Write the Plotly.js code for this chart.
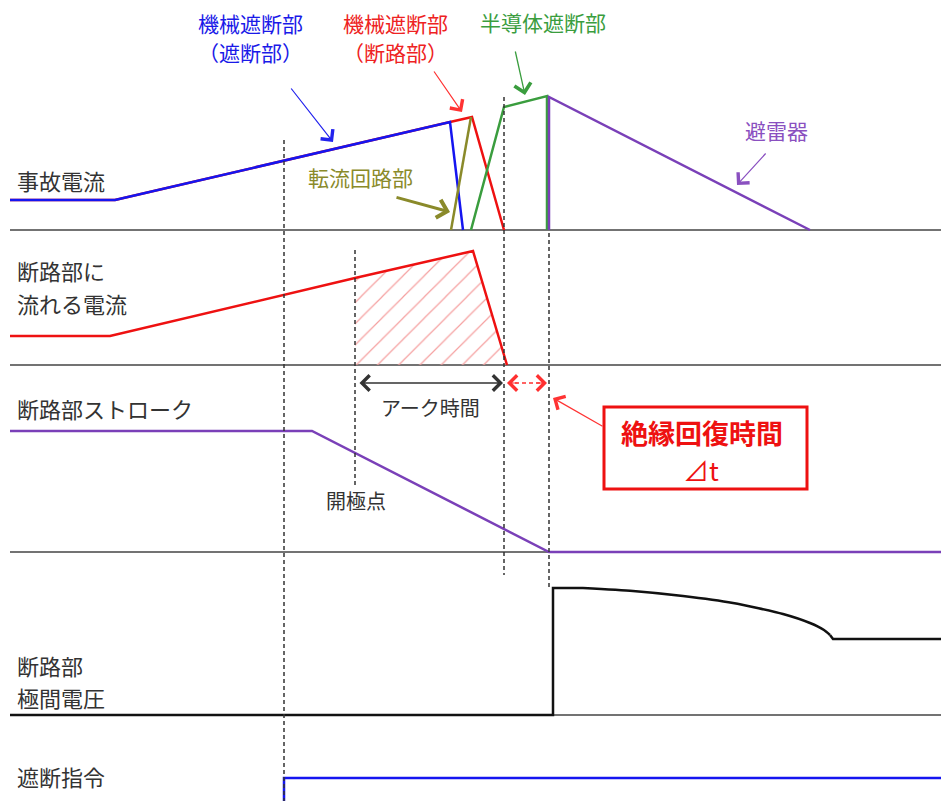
<!DOCTYPE html>
<html>
<head>
<meta charset="utf-8">
<script src="https://cdn.plot.ly/plotly-3.0.1.min.js"></script>
<style>body{margin:0;background:#fff}</style>
</head>
<body>
<div id="chart" style="width:941px;height:801px"></div>
<script>
// time runs left to right, every row shares it
// amplitudes are measured up from each row's own baseline

// row 1: fault current and who carries it
const redT = [10, 115, 450, 472, 504];
const redAmp = [30, 30, 108, 113, 0];
const blueT = [10, 115, 450, 463];
const blueAmp = [30, 30, 108, 0];
const commT = [451, 471];
const commAmp = [0, 113];
const semiT = [471, 504, 547, 547];
const semiAmp = [0, 123, 134, 0];
const arrT = [549, 549, 810];
const arrAmp = [0, 133, 0];

// row 2: current in the disconnector
const discT = [10, 110, 355, 473, 507];
const discAmp = [29, 29, 87, 114, 0];

// row 3: disconnector stroke
const strokeT = [10, 312, 549, 941];
const strokeAmp = [121, 121, 0, 0];

// row 4: voltage across the disconnector gap
const voltT = [10, 553, 553, 583, 633, 683, 733, 783, 810, 824, 830, 833, 941];
const voltAmp = [0, 0, 127, 127, 124, 119, 112, 101, 92, 85, 80, 76, 76];

// row 5: trip command
const cmdT = [284, 284, 941];
const cmdAmp = [0, 23, 23];

// event times marked with dashed lines
const markT = [284, 355, 504, 549];

// baselines of the rows (vertical placement only)
const rowBase = [571, 436, 249, 86, 0];

const FONT = '"Noto Sans CJK JP", "Noto Sans", sans-serif';

function shift(arr, b) {
  return arr.map(v => v + b);
}

function line(x, y, base, color, width, shape) {
  return {
    x: x, y: shift(y, base), type: 'scatter', mode: 'lines',
    line: {color: color, width: width, shape: shape || 'linear', smoothing: 0.6},
    hoverinfo: 'skip'
  };
}

// hatched arc area: from contact opening to current zero
const hatchT = [discT[2]].concat(discT.slice(2));
const hatchAmp = [0].concat(discAmp.slice(2));

const data = [
  {
    x: hatchT, y: shift(hatchAmp, rowBase[1]), type: 'scatter', mode: 'lines',
    fill: 'toself', fillcolor: 'rgba(0,0,0,0)',
    fillpattern: {shape: '/', fgcolor: '#f5a0a0', bgcolor: 'rgba(0,0,0,0)', size: 15, solidity: 0.08},
    line: {width: 0}, hoverinfo: 'skip'
  },
  line(redT, redAmp, rowBase[0], '#ee1111', 2.5),
  line(blueT, blueAmp, rowBase[0], '#1515f0', 2.5),
  line(commT, commAmp, rowBase[0], '#8a8a2a', 2.5),
  line(semiT, semiAmp, rowBase[0], '#3a9d3e', 2.5),
  line(arrT, arrAmp, rowBase[0], '#7a40b8', 2.5),
  line(discT, discAmp, rowBase[1], '#ee1111', 2.5),
  line(strokeT, strokeAmp, rowBase[2], '#7a40b8', 2.5),
  // step part straight, decay part smoothed
  line(voltT.slice(0, 4), voltAmp.slice(0, 4), rowBase[3], '#111111', 2.5),
  line(voltT.slice(3, 11), voltAmp.slice(3, 11), rowBase[3], '#111111', 2.5, 'spline'),
  line(voltT.slice(10), voltAmp.slice(10), rowBase[3], '#111111', 2.5),
  line(cmdT, cmdAmp, rowBase[4], '#1515f0', 2.5)
];

// row baselines
const shapes = [];
[rowBase[0], rowBase[1], rowBase[2], rowBase[3]].forEach(b => {
  shapes.push({type: 'line', xref: 'x', yref: 'y', x0: 10, x1: 941, y0: b, y1: b,
    line: {color: '#444', width: 1.5}, layer: 'below'});
});

// dashed event lines: [top, bottom] for each time in markT
const markSpan = [[661, 0], [551, 316], [704, 226], [568, 211]];
markT.forEach((t, i) => {
  shapes.push({type: 'line', xref: 'x', yref: 'y', x0: t, x1: t,
    y0: markSpan[i][0], y1: markSpan[i][1],
    line: {color: '#333', width: 1.5, dash: '4px,3px'}});
});

// red dashed insulation-recovery span
shapes.push({type: 'line', xref: 'x', yref: 'y', x0: 508, x1: 546, y0: 418, y1: 418,
  line: {color: '#ff3030', width: 1.3, dash: '4px,3px'}});

// red box
shapes.push({type: 'rect', xref: 'x', yref: 'y', x0: 604, x1: 807, y0: 312, y1: 394,
  line: {color: '#ee1111', width: 3}, fillcolor: 'rgba(0,0,0,0)'});

function label(text, x, y, color, size, extra) {
  return Object.assign({
    text: text, x: x, y: y, xref: 'x', yref: 'y', showarrow: false,
    font: {family: FONT, size: size, color: color}
  }, extra || {});
}

function arrow(x, y, ax, ay, color, width, size, extra) {
  return Object.assign({
    text: '', x: x, y: y, ax: ax, ay: ay, xref: 'x', yref: 'y', axref: 'x', ayref: 'y',
    showarrow: true, arrowhead: 4, arrowsize: size, arrowwidth: width, arrowcolor: color,
    standoff: 0, startstandoff: 0
  }, extra || {});
}

const annotations = [
  // row titles
  label('事故電流', 15, 621, '#333', 22, {xanchor: 'left'}),
  label('断路部に', 15, 531, '#333', 22, {xanchor: 'left'}),
  label('流れる電流', 15, 498, '#333', 22, {xanchor: 'left'}),
  label('断路部ストローク', 15, 393, '#333', 22, {xanchor: 'left'}),
  label('断路部', 15, 136, '#333', 22, {xanchor: 'left'}),
  label('極間電圧', 15, 104, '#333', 22, {xanchor: 'left'}),
  label('遮断指令', 15, 25, '#333', 22, {xanchor: 'left'}),

  // component labels
  label('機械遮断部', 250, 778, '#1a1ae8', 21),
  label('（遮断部）', 250, 749, '#1a1ae8', 21),
  label('機械遮断部', 395, 778, '#ee2222', 21),
  label('（断路部）', 395, 749, '#ee2222', 21),
  label('半導体遮断部', 543, 779, '#3a9d3e', 21),
  label('転流回路部', 360, 624, '#8a8a2a', 21),
  label('避雷器', 776, 671, '#8a50c0', 21),

  label('アーク時間', 430, 394, '#333', 20),
  label('開極点', 356, 301, '#333', 20),
  label('<b>絶縁回復時間</b>', 702, 369, '#ee1111', 27),
  label('⊿t', 701, 332, '#ee1111', 26),

  // pointer arrows
  arrow(333, 659, 290, 714, '#2222ee', 1.2, 2.5),
  arrow(462, 689, 433, 731, '#ff3333', 1.2, 2.5),
  arrow(450, 589, 395, 604, '#8a8a2a', 3, 1.2),
  arrow(525, 706, 515, 751, '#3a9d3e', 1.3, 2.5),
  arrow(737, 616, 767, 649, '#8a50c0', 1.2, 2.5),
  arrow(553, 403, 604, 374, '#ff3333', 1.2, 2.5),

  // arc time span
  arrow(503, 418, 358, 418, '#333', 1.5, 2, {arrowside: 'end+start'}),
  // red dashed span heads
  arrow(547, 418, 535, 418, '#ff3030', 1.2, 2.5),
  arrow(507, 418, 519, 418, '#ff3030', 1.2, 2.5)
];

const layout = {
  width: 941, height: 801,
  margin: {l: 0, r: 0, t: 0, b: 0},
  paper_bgcolor: '#fff', plot_bgcolor: '#fff',
  showlegend: false,
  xaxis: {range: [0, 941], visible: false, fixedrange: true},
  yaxis: {range: [0, 801], visible: false, fixedrange: true},
  shapes: shapes,
  annotations: annotations
};

Plotly.newPlot('chart', data, layout, {displayModeBar: false, staticPlot: true});
</script>
</body>
</html>
